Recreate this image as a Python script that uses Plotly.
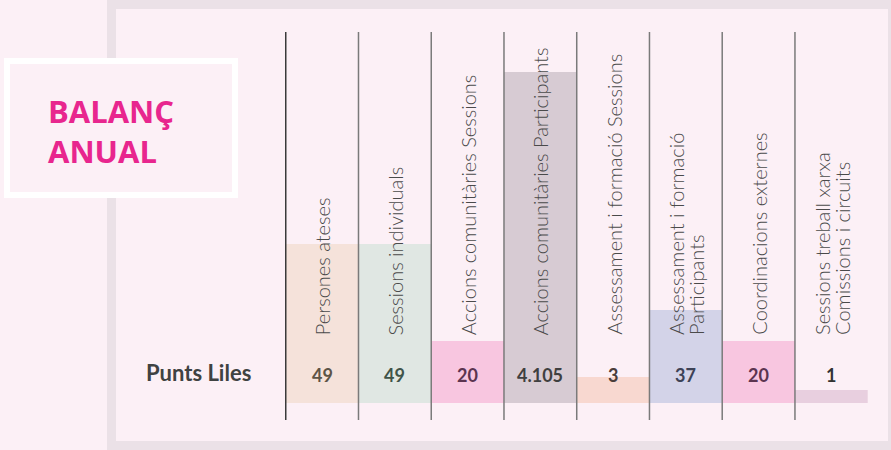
import plotly.graph_objects as go

# columns of the infographic
labels = [
    "Persones ateses",
    "Sessions individuals",
    "Accions comunitàries Sessions",
    "Accions comunitàries Participants",
    "Assessament i formació Sessions",
    "Assessament i formació<br>Participants",
    "Coordinacions externes",
    "Sessions treball xarxa<br>Comissions i circuits",
]
value_text = ["49", "49", "20", "4.105", "3", "37", "20", "1"]
# visual bar heights (% of column height)
bar_heights = [42.8, 42.8, 16.6, 89.3, 7.0, 25.1, 16.6, 3.4]
row_label = "Punts Liles"
title_lines = ["BALANÇ", "ANUAL"]

bar_colors = ["#f5e2da", "#e0e7e3", "#f8c6e0", "#d7cbd3",
              "#f8d8d0", "#d3d3e8", "#f8c6e0", "#e8cfdf"]
value_colors = ["#5d5446", "#3f5449", "#5c3450", "#3f4040",
                "#4a3d3a", "#3d4256", "#5c3450", "#333333"]

W, H = 891, 450
BG = "#fcf0f6"
FRAME = "#ebe1e7"


def px_x(v):
    return v / W


def px_y(v):
    return 1 - v / H


cats = [str(i) for i in range(len(labels))]

fig = go.Figure()
fig.add_trace(go.Bar(
    x=cats, y=bar_heights, marker=dict(color=bar_colors, line=dict(width=0)),
    hoverinfo="skip", showlegend=False,
))

shapes = [
    # frame
    dict(type="rect", xref="paper", yref="paper", x0=px_x(107), x1=1, y0=0, y1=1,
         fillcolor=FRAME, line=dict(width=0), layer="below"),
    dict(type="rect", xref="paper", yref="paper", x0=px_x(116), x1=px_x(888),
         y0=px_y(441), y1=px_y(9), fillcolor=BG, line=dict(width=0), layer="below"),
    # title box
    dict(type="rect", xref="paper", yref="paper", x0=px_x(7), x1=px_x(235),
         y0=px_y(195), y1=px_y(61), fillcolor=BG, line=dict(color="white", width=6),
         layer="below"),
]
for i in range(len(labels)):
    shapes.append(dict(
        type="line", xref="x", yref="y", x0=i - 0.5, x1=i - 0.5, y0=-4.67, y1=100,
        line=dict(color="#3a3a3a" if i == 0 else "#7a7a7a", width=1.5), layer="above",
    ))

annotations = []
for i, lab in enumerate(labels):
    parts = lab.split("<br>")
    n = len(parts)
    for j, part in enumerate(parts):
        annotations.append(dict(
            x=cats[i], y=17.7, xref="x", yref="y", text=part, textangle=-90,
            showarrow=False, xanchor="center", yanchor="bottom",
            xshift=(j - (n - 1) / 2) * 20,
            font=dict(family="Lato", size=20, color="#4a4a4a", weight=300),
        ))
    annotations.append(dict(
        x=cats[i], y=7.6, xref="x", yref="y", text=value_text[i], showarrow=False,
        xanchor="center", yanchor="middle",
        font=dict(family="Lato", size=18, color=value_colors[i], weight="bold"),
    ))

annotations.append(dict(
    x=px_x(198), y=px_y(372), xref="paper", yref="paper", text=row_label,
    showarrow=False, xanchor="center", yanchor="middle",
    font=dict(family="Lato", size=22, color="#3f4242", weight="bold"),
))
for k, t in enumerate(title_lines):
    annotations.append(dict(
        x=px_x(46), y=px_y(111 + 40 * k), xref="paper", yref="paper", text=t,
        showarrow=False, xanchor="left", yanchor="middle",
        font=dict(family="Open Sans", size=31, color="#e8268e", weight="bold"),
    ))

fig.update_layout(
    width=W, height=H, margin=dict(l=0, r=0, t=0, b=0),
    paper_bgcolor=BG, plot_bgcolor="rgba(0,0,0,0)",
    bargap=0, shapes=shapes, annotations=annotations,
    xaxis=dict(domain=[px_x(285), px_x(867.7)], visible=False, fixedrange=True),
    yaxis=dict(domain=[px_y(420), px_y(32)], range=[-4.67, 100], visible=False,
               fixedrange=True),
)

fig.write_html("out.html", config={"displayModeBar": False},
               post_script="document.body.style.margin='0';")
